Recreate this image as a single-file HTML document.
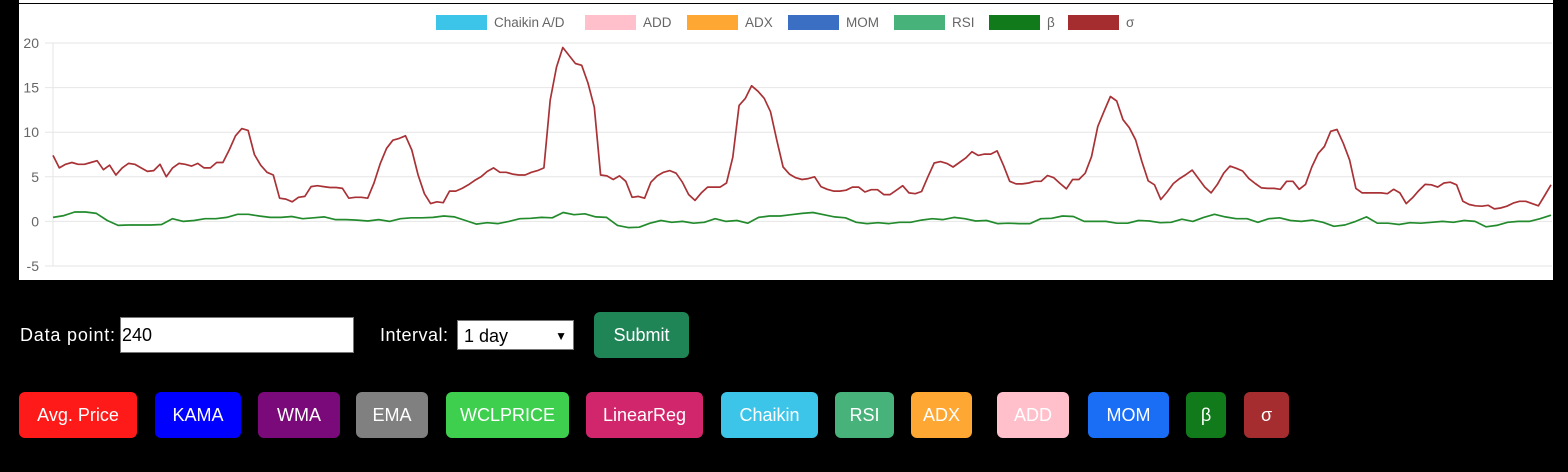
<!DOCTYPE html>
<html><head><meta charset="utf-8">
<style>
body{margin:0;width:1568px;height:472px;background:#000;overflow:hidden;font-family:"Liberation Sans",sans-serif;position:relative}
#chart{position:absolute;left:19px;top:0;width:1534px;height:280px;background:#fff}
.lbl{position:absolute;color:#fff;font-size:18px}
.btn{position:absolute;top:392px;height:46px;border-radius:6px;color:#fff;font-size:18px;display:flex;align-items:center;justify-content:center}
</style></head><body>
<div id="chart">
<svg id="svg" width="1534" height="280"></svg>
</div>
<span class="lbl" style="left:20px;top:325px;letter-spacing:0.8px">Data point:</span>
<div style="position:absolute;left:120px;top:317px;background:#fff;border:1px solid #767676;font-size:18px;line-height:34px;padding-left:1px;box-sizing:border-box;height:36px;width:234px">240</div>
<span class="lbl" style="left:380px;top:325px;letter-spacing:0.5px">Interval:</span>
<div style="position:absolute;left:457px;top:320px;width:117px;height:30px;background:#fff;border:1px solid #767676;box-sizing:border-box;font-size:18px;line-height:30px;padding-left:6px">1 day<span style="position:absolute;right:6px;top:0;font-size:12px">&#9660;</span></div>
<div class="btn" style="left:594px;top:312px;width:95px;background:#1f8557">Submit</div>
<div class="btn" style="left:19px;width:118px;background:#ff1a1a">Avg. Price</div>
<div class="btn" style="left:155px;width:86px;background:#0000ff">KAMA</div>
<div class="btn" style="left:258px;width:82px;background:#7a0a7a">WMA</div>
<div class="btn" style="left:356px;width:72px;background:#808080">EMA</div>
<div class="btn" style="left:446px;width:123px;background:#3fcf4f">WCLPRICE</div>
<div class="btn" style="left:586px;width:117px;background:#d1266b">LinearReg</div>
<div class="btn" style="left:721px;width:97px;background:#3cc5e8">Chaikin</div>
<div class="btn" style="left:835px;width:59px;background:#47b27a">RSI</div>
<div class="btn" style="left:911px;width:61px;background:#ffa733">ADX</div>
<div class="btn" style="left:997px;width:72px;background:#ffc0cb">ADD</div>
<div class="btn" style="left:1088px;width:81px;background:#1a6ef5">MOM</div>
<div class="btn" style="left:1186px;width:40px;background:#117a1a">β</div>
<div class="btn" style="left:1244px;width:45px;background:#a52d2f">σ</div>
<script>
const yTicks=[20,15,10,5,0,-5];
const legendLabels=["Chaikin A/D","ADD","ADX","MOM","RSI","β","σ"];
const legendColors=["#3cc5e8","#ffc0cb","#ffa733","#3a6fc4","#47b27a","#117a1a","#a52d2f"];
const sigmaValues=[7.4,6.0,6.4,6.6,6.4,6.4,6.6,6.8,5.8,6.3,5.2,6.0,6.5,6.4,6.0,5.6,5.7,6.4,5.0,6.0,6.5,6.4,6.2,6.5,6.0,6.0,6.6,6.6,8.0,9.6,10.4,10.2,7.5,6.3,5.5,5.2,2.6,2.5,2.2,2.7,2.8,3.9,4.0,3.9,3.8,3.8,3.7,2.6,2.7,2.7,2.6,4.3,6.5,8.2,9.1,9.3,9.6,8.0,5.2,3.1,2.0,2.2,2.1,3.4,3.4,3.7,4.1,4.6,5.0,5.6,6.0,5.5,5.5,5.3,5.2,5.2,5.5,
5.7,6.0,13.6,17.3,19.5,18.6,17.7,17.5,15.5,12.8,5.2,5.1,4.7,5.1,4.5,2.7,2.8,2.6,4.4,5.1,5.5,5.7,5.4,4.4,3.0,2.35,3.2,3.85,3.85,3.85,4.3,7.2,13.0,13.8,15.2,14.6,13.8,12.3,9.1,6.1,5.3,4.9,4.7,4.8,5.0,3.9,3.6,3.4,3.4,3.5,3.85,3.85,3.3,3.55,3.55,3.0,3.0,3.5,4.0,3.2,3.1,3.35,5.0,6.55,6.7,6.5,6.1,6.6,7.1,7.8,7.4,7.55,7.55,7.9,6.3,4.5,4.2,4.2,4.3,4.5,4.5,5.15,4.9,
4.25,3.65,4.7,4.7,5.4,7.25,10.65,12.35,14.0,13.5,11.4,10.5,9.15,6.7,4.55,4.1,2.45,3.3,4.25,4.8,5.25,5.75,4.8,3.85,3.2,4.15,5.4,6.2,5.95,5.65,4.8,4.25,3.75,3.7,3.7,3.6,4.5,4.5,3.6,4.15,6.1,7.6,8.4,10.1,10.3,8.75,6.9,3.7,3.2,3.2,3.2,3.2,3.1,3.6,3.2,2.0,2.65,3.45,4.15,4.1,3.85,4.3,4.4,4.1,2.25,1.9,1.75,1.7,1.8,1.4,1.5,1.7,2.05,2.25,2.25,2.0,1.75,2.9,4.1];
const betaValues=[0.45,0.65,1.05,1.05,0.9,0.1,-0.45,-0.4,-0.4,-0.4,-0.35,0.3,0.0,0.1,0.3,0.3,0.45,0.8,0.8,0.6,0.45,0.45,0.55,0.3,0.4,0.5,0.2,0.2,0.15,0.05,0.2,0.0,0.3,0.4,0.4,0.45,0.6,0.5,0.1,-0.3,-0.15,-0.25,0.0,0.3,0.35,0.45,0.4,1.0,0.75,
0.85,0.5,0.45,-0.45,-0.7,-0.65,-0.2,0.1,-0.1,0.0,-0.2,-0.1,0.3,0.0,0.1,-0.2,0.45,0.6,0.6,0.75,0.9,1.0,0.75,0.5,0.4,-0.1,-0.25,-0.15,-0.25,-0.1,-0.1,0.15,0.3,0.2,0.45,0.3,0.05,0.1,-0.25,-0.2,
-0.25,-0.25,0.3,0.35,0.6,0.55,0.0,0.0,0.0,-0.2,-0.2,0.1,0.05,-0.15,-0.1,0.25,0.0,0.45,0.8,0.5,0.3,0.3,-0.1,0.3,0.4,0.1,0.0,0.15,-0.1,-0.55,-0.4,0.0,0.5,-0.2,-0.2,-0.35,-0.15,-0.2,-0.1,0.0,-0.1,0.1,0.0,-0.6,-0.45,-0.1,0.0,0.0,0.3,0.7];
const NS="http://www.w3.org/2000/svg";
const svg=document.getElementById('svg');
const OX=19, L=53-OX, R=1551-OX, T=43, B=266;
function yS(v){return T+(20-v)*(B-T)/25;}
function xS(i,n){return L+i*(R-L)/(n-1);}
function mk(tag,attrs){const e=document.createElementNS(NS,tag);for(const k in attrs)e.setAttribute(k,attrs[k]);svg.appendChild(e);return e;}
let e=mk('line',{x1:0,x2:1534,y1:3.5,y2:3.5,stroke:'#000','stroke-width':1});


yTicks.forEach(t=>{
 const y=yS(t);
 const g=mk('line',{x1:L-8,x2:R+1,y1:y,y2:y,stroke:'#e6e6e6','stroke-width':1});
 
 
 const tx=mk('text',{x:L-14,y:y+5,'text-anchor':'end','font-size':14,fill:'#666','font-family':'Liberation Sans, sans-serif'});
 tx.textContent=t;
 
 
});
e=mk('line',{x1:L,x2:L,y1:T,y2:B,stroke:'#e6e6e6','stroke-width':1});


function series(vals,color,name){
 const n=vals.length;
 const d=vals.map((v,i)=>(i?'L':'M')+xS(i,n).toFixed(1)+' '+yS(v).toFixed(1)).join(' ');
 const p=mk('path',{d:d,fill:'none',stroke:color,'stroke-width':1.7,'stroke-linejoin':'round'});
 
 
}
series(betaValues,'#238b2d','beta-line');
series(sigmaValues,'#a83236','sigma-line');
const legX=[436,585,687,788,894,989,1068];
legendLabels.forEach((lb,i)=>{
 const r=mk('rect',{x:legX[i]-OX,y:15,width:51,height:15,fill:legendColors[i]});
 
 
 const t=mk('text',{x:legX[i]-OX+58,y:27,'font-size':13.5,fill:'#666','font-family':'Liberation Sans, sans-serif'});
 t.textContent=lb;
 
 
});
</script>
</body></html>
